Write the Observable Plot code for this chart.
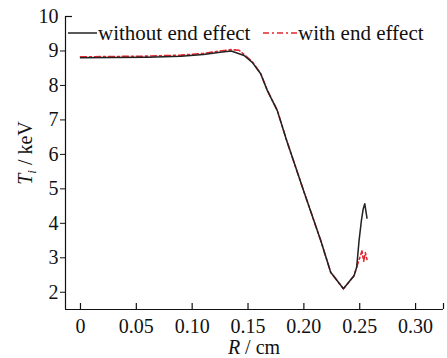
<!DOCTYPE html>
<html><head><meta charset="utf-8">
<script src="https://cdn.jsdelivr.net/npm/d3@7"></script>
<script src="https://cdn.jsdelivr.net/npm/@observablehq/plot@0.6"></script>
<style>
body{margin:0;background:#fff;}
#wrap{width:447px;height:358px;}
svg text{font-family:"Liberation Serif","Times New Roman",serif;}
</style></head><body><div id="wrap"></div>
<script>
// without end effect
const rBlack = [0, 0.03, 0.06, 0.09, 0.11, 0.125, 0.135, 0.1464, 0.1538, 0.1613, 0.1673, 0.1762, 0.1846, 0.20, 0.2151, 0.224, 0.2354, 0.2449, 0.2473, 0.2494, 0.2515, 0.2530, 0.2545, 0.2565];
const tBlack = [8.80, 8.81, 8.82, 8.85, 8.90, 8.96, 9.00, 8.87, 8.67, 8.34, 7.85, 7.27, 6.40, 4.92, 3.50, 2.58, 2.10, 2.48, 2.73, 3.50, 4.08, 4.40, 4.57, 4.15];
// with end effect
const rRed = [0, 0.03, 0.06, 0.09, 0.11, 0.125, 0.135, 0.142, 0.1464, 0.1538, 0.1613, 0.1673, 0.1762, 0.1846, 0.20, 0.2151, 0.224, 0.2354, 0.2449, 0.2473, 0.2500, 0.2520, 0.2535, 0.2550, 0.2565];
const tRed = [8.83, 8.84, 8.85, 8.88, 8.93, 9.00, 9.04, 9.02, 8.90, 8.69, 8.35, 7.86, 7.28, 6.40, 4.92, 3.50, 2.58, 2.10, 2.48, 2.73, 3.00, 3.20, 2.90, 3.15, 2.95];

const xTicks = [0, 0.05, 0.10, 0.15, 0.20, 0.25, 0.30];
const xTickLabels = ["0", "0.05", "0.10", "0.15", "0.20", "0.25", "0.30"];
const yTicks = [2, 3, 4, 5, 6, 7, 8, 9, 10];
const seriesNames = ["without end effect", "with end effect"];

const black = rBlack.map((r, i) => ({r, t: tBlack[i]}));
const red = rRed.map((r, i) => ({r, t: tRed[i]}));

const xDomain = [-0.0134, 0.325];
const yDomain = [1.5, 10];
const ff = "'Liberation Serif', 'Times New Roman', serif";

const plot = Plot.plot({
  width: 447,
  height: 358,
  marginLeft: 65,
  marginRight: 4,
  marginTop: 16,
  marginBottom: 49,
  style: {fontFamily: ff, fontSize: "20px", background: "white", color: "#111"},
  x: {domain: xDomain, label: null},
  y: {domain: yDomain, label: null},
  marks: [
    Plot.ruleY([yDomain[0]], {stroke: "#111", strokeWidth: 1.2}),
    Plot.ruleX([xDomain[0]], {stroke: "#111", strokeWidth: 1.2}),
    // top cap of the y axis (short inward stroke)
    Plot.ruleY([yDomain[1]], {insetRight: 371, stroke: "#111", strokeWidth: 1.2}),
    // inward x ticks, plus the end cap of the x axis
    Plot.ruleX([...xTicks, xDomain[1]], {insetTop: 287, stroke: "#111", strokeWidth: 1.2}),
    Plot.axisX(xTicks, {tickSize: 0, tickPadding: 9, tickFormat: (d, i) => xTickLabels[i], fill: "#111"}),
    Plot.axisY(yTicks.filter(d => d < 10), {tickSize: 5, tickFormat: () => "", stroke: "#111"}),
    Plot.axisY(yTicks, {tickSize: 0, tickPadding: 7, fill: "#111"}),
    Plot.line(red, {x: "r", y: "t", stroke: "#e3262e", strokeWidth: 1.6, strokeDasharray: "6,3,2,3"}),
    Plot.line(black, {x: "r", y: "t", stroke: "#222", strokeWidth: 1.5})
  ]
});
document.getElementById("wrap").appendChild(plot);

const svg = d3.select(plot);
// legend
const lg = svg.append("g").attr("font-size", 21).attr("fill", "#111").attr("text-anchor", "start");
lg.append("line").attr("x1", 68).attr("x2", 97).attr("y1", 33).attr("y2", 33).attr("stroke", "#222").attr("stroke-width", 1.5);
lg.append("text").attr("x", 98).attr("y", 40).attr("text-anchor", "start").text(seriesNames[0]);
lg.append("line").attr("x1", 263).attr("x2", 297).attr("y1", 33).attr("y2", 33).attr("stroke", "#e3262e").attr("stroke-width", 1.6).attr("stroke-dasharray", "6,3,2,3");
lg.append("text").attr("x", 298).attr("y", 40).attr("text-anchor", "start").text(seriesNames[1]);

// x label
const xl = svg.append("text").attr("x", 254).attr("y", 354).attr("text-anchor", "middle")
  .attr("font-size", 20).attr("fill", "#111");
xl.append("tspan").attr("font-style", "italic").text("R");
xl.append("tspan").text(" / cm");

// y label
const yl = svg.append("text").attr("transform", "translate(32,153) rotate(-90)").attr("text-anchor", "middle")
  .attr("font-size", 20).attr("fill", "#111");
yl.append("tspan").attr("font-style", "italic").text("T");
yl.append("tspan").attr("font-style", "italic").attr("font-size", 13).attr("dy", 4).text("i");
yl.append("tspan").attr("dy", -4).text(" / keV");
</script>
</body></html>
